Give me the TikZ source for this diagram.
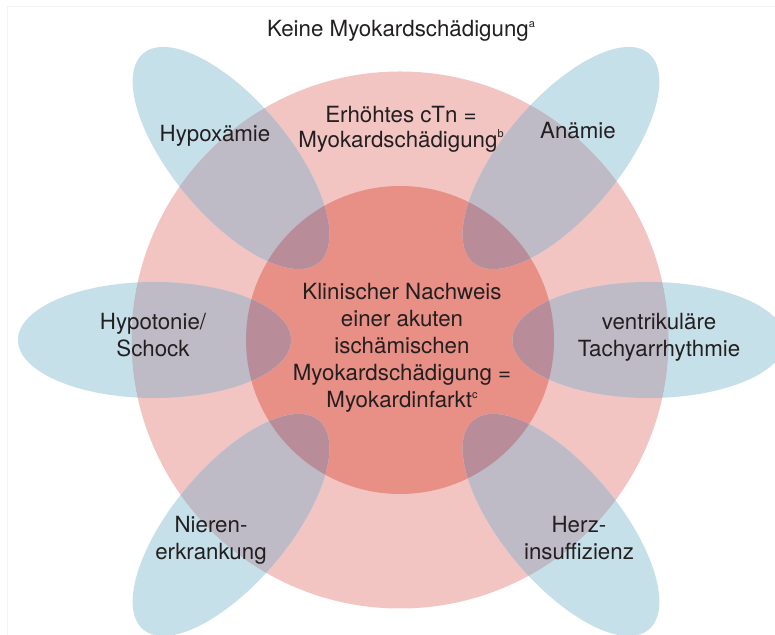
\documentclass[tikz,border=0pt]{standalone}
\usepackage{fontspec}
\setmainfont{TeX Gyre Heros}
\definecolor{cpink}{RGB}{242,197,195}
\definecolor{cred}{RGB}{232,143,134}
\definecolor{cblue}{RGB}{198,224,234}
\definecolor{covA}{RGB}{190,186,198}
\definecolor{covB}{RGB}{184,141,153}
\definecolor{ctext}{RGB}{35,31,32}
\definecolor{cframe}{RGB}{244,244,244}
\newcommand\supsc[1]{\raisebox{9.5bp}{\fontsize{11}{11}\selectfont #1}}
\newcommand\petaldraw[3]{%
  \fill[cblue, rotate around={#3:(#1,#2)}] (#1,#2) ellipse [x radius=136.5, y radius=58];
  \begin{scope}
    \clip[rotate around={#3:(#1,#2)}] (#1,#2) ellipse [x radius=136.5, y radius=58];
    \fill[covA] (C) circle [radius=268.5];
    \fill[covB] (C) circle [radius=154];
  \end{scope}}
\begin{document}
\begin{tikzpicture}[x=1bp,y=1bp,
  lbl/.style={anchor=base, align=center, text=ctext, inner sep=0pt,
    font=\fontsize{22.3bp}{27bp}\selectfont}]
\useasboundingbox (0,0) rectangle (775,635);
\fill[white] (0,0) rectangle (775,635);
\draw[cframe, line width=1bp] (7,-5) -- (7,628) -- (790,628);
\coordinate (C) at (400,295);
\fill[cpink] (C) circle [radius=268.5];
\fill[cred] (C) circle [radius=154];
\petaldraw{231}{477}{-50}
\petaldraw{561}{477}{50}
\petaldraw{154.5}{295}{0}
\petaldraw{649}{295}{0}
\petaldraw{231}{110}{50}
\petaldraw{561}{110}{-50}
% multi-line nodes: base anchor is the baseline of the last line
\node[lbl] (keine) at (401,598) {Keine Myokardschädigung\supsc{a}};
\node[lbl, font=\fontsize{22.3bp}{25bp}\selectfont] (erh) at (401,487.5) {Erhöhtes cTn =\\Myokardschädigung\supsc{b}};
\node[lbl] (mi) at (402,227) {Klinischer Nachweis\\einer akuten\\ischämischen\\Myokardschädigung =\\Myokardinfarkt\supsc{c}};
\node[lbl] (hypox) at (215,493) {Hypoxämie};
\node[lbl] (anae) at (578,496) {Anämie};
\node[lbl] (hypot) at (153,278) {Hypotonie/\\Schock};
\node[lbl] (vt) at (659,278) {ventrikuläre\\Tachyarrhythmie};
\node[lbl] (nier) at (211,75.5) {Nieren-\\erkrankung};
\node[lbl] (herz) at (579,75.5) {Herz-\\insuffizienz};
\end{tikzpicture}
\end{document}
